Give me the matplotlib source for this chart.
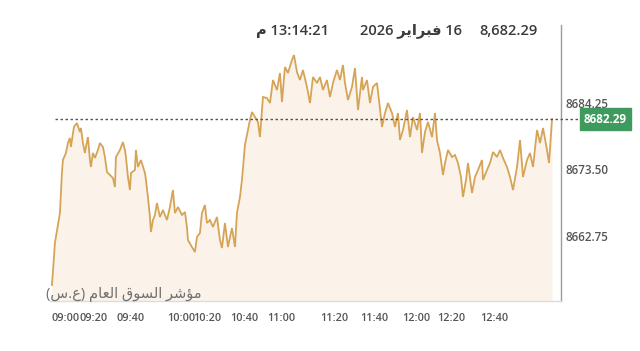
import matplotlib
matplotlib.use('Agg')
import matplotlib.pyplot as plt
import matplotlib.transforms as mtransforms

# ---------------- data ----------------
bars = [0, 0.5, 1.5, 4, 5, 5.5, 7, 8, 9, 9.5, 11, 12.5, 14, 14.5, 15.5, 16.5, 17, 18, 19, 19.5,
        20.5, 21.5, 23, 24, 25.5, 26.5, 27.5, 29, 30.5, 31.5, 32, 34, 35.5, 36.5, 37, 38, 39, 39.5,
        41.5, 42, 43, 44.5, 46.5, 47, 48, 49, 49.5, 50.5, 51.5, 52.5, 54, 55.5, 57.5, 59, 60.5, 61.5,
        63, 65, 66.5, 67.5, 68, 70, 71.5, 72.5, 74, 75, 76.5, 77.5, 79, 80.5, 82.5, 84, 85, 86.5, 88,
        90, 91.5, 92.5, 94, 95, 96.5, 98, 99, 100, 101.5, 103, 104, 105.5, 107.5, 109, 110.5, 112.5,
        114, 115, 116.5, 118, 120, 121, 122.5, 124, 125.5, 127.5, 129, 130.5, 132.5, 134, 135.5,
        137.5, 139, 140.5, 142.5, 144, 145.5, 146.5, 148, 150, 151.5, 152.5, 153, 155, 155.5, 157.5,
        159, 160.5, 162.5, 163.5, 165, 166.5, 168, 170, 171.5, 173, 174, 175.5, 177.5, 179, 180.5,
        182.5, 184, 185, 186.5, 188, 190, 191.5, 192.5, 194, 195.5, 196.5, 198, 200, 201.5, 203,
        204.5, 205.5, 207, 208, 210, 211.5, 213, 215, 215.5, 217.5, 219, 220.5, 222.5, 224, 225.5,
        227.5, 229, 230.5, 232.5, 234, 235.5, 237.5, 239, 240.5, 242.5, 244, 245.5, 247.5, 248.5, 250]
prices = [8655.47, 8657.57, 8662.26, 8667.10, 8673.57, 8675.67, 8676.80, 8678.41, 8679.22, 8677.77,
          8681.00, 8681.64, 8680.19, 8680.84, 8678.41, 8676.80, 8677.77, 8679.38, 8675.67, 8674.54,
          8676.80, 8675.99, 8677.28, 8678.41, 8677.77, 8676.15, 8673.73, 8673.24, 8672.76, 8671.30,
          8676.15, 8677.28, 8678.57, 8677.28, 8676.15, 8672.92, 8670.82, 8673.57, 8674.05, 8677.28,
          8674.54, 8675.67, 8673.57, 8672.44, 8669.69, 8666.46, 8664.03, 8665.97, 8666.78, 8668.72,
          8666.46, 8667.59, 8665.97, 8668.07, 8670.82, 8667.10, 8668.07, 8666.78, 8667.27, 8664.84,
          8662.74, 8661.61, 8660.80, 8663.23, 8663.87, 8667.10, 8668.40, 8665.49, 8665.97, 8664.84,
          8666.46, 8662.74, 8661.45, 8665.49, 8661.61, 8664.68, 8661.61, 8667.10, 8669.69, 8672.44,
          8678.09, 8680.51, 8682.13, 8683.42, 8682.61, 8681.81, 8679.38, 8685.84, 8685.68, 8684.87,
          8688.59, 8686.97, 8689.72, 8685.04, 8690.69, 8689.72, 8691.82, 8692.63, 8689.88, 8688.59,
          8690.21, 8687.46, 8684.87, 8689.08, 8688.11, 8689.08, 8686.97, 8688.59, 8685.84, 8688.11,
          8690.21, 8688.59, 8691.01, 8688.11, 8685.36, 8687.46, 8690.53, 8685.84, 8683.74, 8689.08,
          8686.97, 8688.59, 8684.87, 8687.46, 8688.11, 8685.36, 8681.00, 8683.26, 8684.87, 8683.26,
          8681.00, 8683.26, 8678.90, 8680.51, 8683.74, 8679.38, 8682.61, 8680.51, 8683.26, 8676.80,
          8680.19, 8681.81, 8679.38, 8683.26, 8678.90, 8676.80, 8673.24, 8675.18, 8677.28, 8676.15,
          8676.47, 8675.18, 8672.92, 8669.69, 8672.44, 8675.18, 8670.34, 8672.92, 8674.05, 8675.67,
          8672.44, 8674.05, 8675.18, 8676.96, 8676.15, 8677.28, 8675.99, 8674.54, 8672.92, 8670.82,
          8674.54, 8678.90, 8672.92, 8675.67, 8676.80, 8674.54, 8680.51, 8678.41, 8680.84, 8677.28,
          8675.18, 8682.29]

tick_bars = [0, 14, 32.5, 57.5, 70.5, 89, 107.5, 134, 154, 175, 192.5, 214]
tick_labels = ['09:00', '09:20', '09:40', '10:00', '10:20', '10:40',
               '11:00', '11:20', '11:40', '12:00', '12:20', '12:40']
y_ticks = [8662.75, 8673.50, 8684.25]
last_price = 8682.29
y_min, y_max = 8652.89, 8697.48
x_min, x_max = -1, 254.5

header_price = '8,682.29'
# Arabic written in presentation forms, visual order (matplotlib has no bidi shaping)
header_date = '2026 \uFEAE\uFEF3\uFE8D\uFEAE\uFE92\uFED3 16'          # 16 فبراير 2026
header_time = '\uFEE1 13:14:21'                                          # 13:14:21 م
index_name = ('(\uFEB1.\uFEC9) '
              '\uFEE1\uFE8E\uFECC\uFEDF\uFE8D '
              '\uFED5\uFEEE\uFEB4\uFEDF\uFE8D '
              '\uFEAE\uFEB7\uFE86\uFEE3')                                # مؤشر السوق العام (ع.س)

# ---------------- style ----------------
FONT = ['Open Sans', 'DejaVu Sans']
plt.rcParams['font.family'] = FONT
line_color = '#d6a457'
fill_color = '#fbf3ea'
text_dark = '#3a3a3a'
text_axis = '#555555'
green = '#3f9b5d'

fig = plt.figure(figsize=(6.4, 3.51), dpi=100)
fig.patch.set_facecolor('white')
ax = fig.add_axes([0.078, 0.1425, 0.7986, 0.7863])
ax.set_facecolor('white')

ax.fill_between(bars, prices, y_min, color=fill_color, lw=0, zorder=1)
ax.plot(bars, prices, color=line_color, lw=1.3, zorder=3, solid_joinstyle='miter')

ax.set_xlim(x_min, x_max)
ax.set_ylim(y_min, y_max)

# dotted last-price line, running out to the price tag
ax.plot([1.5, 263], [last_price, last_price], color='#555555', lw=1,
        ls=(0, (1.8, 1.8)), clip_on=False, zorder=4)

for s in ['top', 'left']:
    ax.spines[s].set_visible(False)
ax.spines['right'].set_color('#9c9c9c')
ax.spines['right'].set_linewidth(1)
ax.spines['bottom'].set_color('#dcdcdc')
ax.spines['bottom'].set_linewidth(1)

# x ticks
ax.set_xticks(tick_bars)
ax.set_xticklabels(tick_labels, fontsize=7.8, fontweight='semibold', color=text_axis, ha='left')
ax.tick_params(axis='x', length=0, pad=9)

# y ticks on the right, drawn slightly above their values
ax.yaxis.tick_right()
ax.set_yticks(y_ticks)
ax.set_yticklabels([f'{v:.2f}' for v in y_ticks], fontsize=8.4, fontweight='semibold', color=text_axis)
ax.tick_params(axis='y', length=0, pad=3)
off = mtransforms.ScaledTranslation(0, 0.04, fig.dpi_scale_trans)
for lab in ax.get_yticklabels():
    lab.set_transform(lab.get_transform() + off)

# green price tag
tag_tr = mtransforms.blended_transform_factory(fig.transFigure, ax.transData)
ax.text(605.5 / 640, last_price, f'{last_price:.2f}', transform=tag_tr, ha='center', va='center',
        fontsize=8.4, fontweight='bold', color='white', clip_on=False, zorder=6,
        bbox=dict(boxstyle='square,pad=0.38', fc=green, ec=green))

# header
ty = 1 - 31 / 351
fig.text(538 / 640, ty, header_price, ha='right', va='center', fontsize=10.5,
         fontweight='semibold', color=text_dark)
fig.text(462 / 640, ty, header_date, ha='right', va='center', fontsize=10.5,
         fontweight='semibold', color=text_dark)
fig.text(329 / 640, ty, header_time, ha='right', va='center', fontsize=10.5,
         fontweight='semibold', color=text_dark)

# index name, bottom-left inside the plot
fig.text(46 / 640, 1 - 295 / 351, index_name, ha='left', va='center', fontsize=10.5,
         color='#707070')

fig.savefig('out.png', dpi=100, facecolor='white')
